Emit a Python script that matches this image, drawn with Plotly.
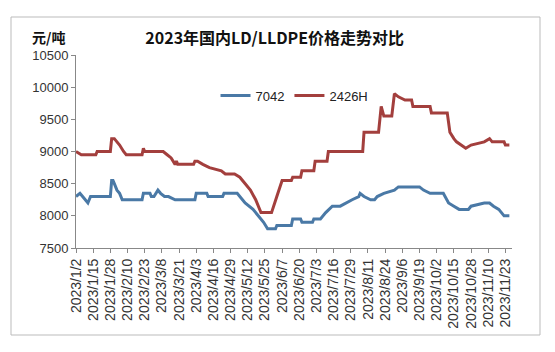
import plotly.graph_objects as go
from datetime import datetime

# ---- data ----
dates_7042 = ["2023-01-02","2023-01-05","2023-01-07","2023-01-11","2023-01-13","2023-01-28","2023-01-29","2023-01-30","2023-01-31","2023-02-01","2023-02-02","2023-02-04","2023-02-06","2023-02-21","2023-02-22","2023-02-27","2023-02-28","2023-03-02","2023-03-05","2023-03-07","2023-03-10","2023-03-13","2023-03-18","2023-04-02","2023-04-03","2023-04-11","2023-04-12","2023-04-23","2023-04-24","2023-05-04","2023-05-06","2023-05-10","2023-05-16","2023-05-20","2023-05-24","2023-05-27","2023-06-02","2023-06-03","2023-06-14","2023-06-15","2023-06-21","2023-06-22","2023-06-30","2023-07-01","2023-07-06","2023-07-10","2023-07-15","2023-07-21","2023-07-25","2023-07-30","2023-08-04","2023-08-05","2023-08-08","2023-08-13","2023-08-16","2023-08-18","2023-08-23","2023-08-31","2023-09-03","2023-09-19","2023-09-22","2023-09-27","2023-10-07","2023-10-10","2023-10-11","2023-10-15","2023-10-19","2023-10-26","2023-10-28","2023-11-07","2023-11-11","2023-11-14","2023-11-18","2023-11-22","2023-11-26"]
values_7042 = [8300,8350,8300,8200,8300,8300,8550,8550,8500,8450,8400,8350,8250,8250,8350,8350,8300,8300,8400,8350,8300,8300,8250,8250,8350,8350,8300,8300,8350,8350,8300,8200,8100,8000,7900,7800,7800,7850,7850,7950,7950,7900,7900,7950,7950,8050,8150,8150,8200,8250,8300,8350,8300,8250,8250,8300,8350,8400,8450,8450,8400,8350,8350,8250,8200,8150,8100,8100,8150,8200,8200,8150,8100,8000,8000]

dates_2426H = ["2023-01-02","2023-01-06","2023-01-17","2023-01-18","2023-01-28","2023-01-29","2023-01-31","2023-02-02","2023-02-04","2023-02-07","2023-02-09","2023-02-21","2023-02-22","2023-02-23","2023-03-09","2023-03-12","2023-03-15","2023-03-18","2023-03-19","2023-03-20","2023-04-01","2023-04-02","2023-04-04","2023-04-08","2023-04-13","2023-04-22","2023-04-25","2023-05-02","2023-05-06","2023-05-14","2023-05-18","2023-05-22","2023-05-30","2023-06-03","2023-06-07","2023-06-14","2023-06-15","2023-06-21","2023-06-22","2023-07-01","2023-07-02","2023-07-11","2023-07-12","2023-08-07","2023-08-08","2023-08-19","2023-08-21","2023-08-23","2023-08-29","2023-08-31","2023-09-03","2023-09-08","2023-09-13","2023-09-14","2023-09-27","2023-09-28","2023-10-10","2023-10-11","2023-10-12","2023-10-15","2023-10-17","2023-10-24","2023-10-28","2023-11-07","2023-11-11","2023-11-13","2023-11-22","2023-11-23","2023-11-26"]
values_2426H = [9000,8950,8950,9000,9000,9200,9200,9150,9100,9000,8950,8950,9050,9000,9000,8950,8900,8800,8850,8800,8800,8850,8850,8800,8750,8700,8650,8650,8600,8400,8250,8050,8050,8300,8550,8550,8600,8600,8700,8700,8850,8850,9000,9000,9300,9300,9700,9550,9550,9900,9850,9800,9800,9700,9700,9600,9600,9450,9300,9200,9150,9050,9100,9150,9200,9150,9150,9100,9100]

x_tick_labels = ["2023/1/2","2023/1/15","2023/1/28","2023/2/10","2023/2/23","2023/3/8","2023/3/21","2023/4/3","2023/4/16","2023/4/29","2023/5/12","2023/5/25","2023/6/7","2023/6/20","2023/7/3","2023/7/16","2023/7/29","2023/8/11","2023/8/24","2023/9/6","2023/9/19","2023/10/2","2023/10/15","2023/10/28","2023/11/10","2023/11/23"]
y_tick_values = [7500, 8000, 8500, 9000, 9500, 10000, 10500]

x_tick_vals = [datetime.strptime(s, "%Y/%m/%d").strftime("%Y-%m-%d") for s in x_tick_labels]

BLUE = "#4a79a6"
RED = "#a33f3d"

fig = go.Figure()
fig.add_trace(go.Scatter(x=dates_7042, y=values_7042, mode="lines", name="7042",
                         line=dict(color=BLUE, width=3)))
fig.add_trace(go.Scatter(x=dates_2426H, y=values_2426H, mode="lines", name="2426H",
                         line=dict(color=RED, width=3)))

fig.update_layout(
    width=555, height=352,
    margin=dict(l=76, r=43, t=55, b=104),
    paper_bgcolor="white", plot_bgcolor="white",
    showlegend=True,
    legend=dict(orientation="h", x=0.32, xanchor="left", y=0.79, yanchor="middle",
                font=dict(family="Liberation Sans", size=13, color="#222"),
                bgcolor="rgba(0,0,0,0)", itemwidth=30, tracegroupgap=0),
    title=dict(text="<b>2023年国内LD/LLDPE价格走势对比</b>", x=0.495, xref="container", xanchor="center",
               y=1 - 38/352, yref="container", yanchor="middle",
               font=dict(family="Noto Sans CJK SC", size=16, color="#111")),
    xaxis=dict(type="date", range=["2023-01-02", "2023-11-28"],
               tickvals=x_tick_vals, ticktext=x_tick_labels, tickangle=-90,
               tickfont=dict(family="Liberation Sans", size=14, color="#333"),
               showgrid=False, zeroline=False, showline=True, linecolor="#888", linewidth=1,
               ticks="outside", ticklen=4, tickcolor="#888"),
    yaxis=dict(range=[7500, 10500], tickvals=y_tick_values,
               ticktext=[str(v) for v in y_tick_values],
               tickfont=dict(family="Liberation Sans", size=13, color="#333"),
               showgrid=False, zeroline=False, showline=True, linecolor="#888", linewidth=1,
               ticks="outside", ticklen=4, tickcolor="#888"),
    hovermode=False,
)

fig.add_annotation(text="<b>元/吨</b>", xref="paper", yref="paper",
                   x=(48 - 76) / 436, y=(248 - 37) / 193, xanchor="center", yanchor="middle",
                   showarrow=False, font=dict(family="Noto Sans CJK SC", size=14, color="#111"))

fig.add_shape(type="rect", xref="paper", yref="paper",
              x0=(11 - 76) / 436, x1=(540 - 76) / 436, y0=(248 - 335) / 193, y1=(248 - 17) / 193,
              line=dict(color="#bbbbbb", width=1), fillcolor="rgba(0,0,0,0)", layer="below")

fig.write_html("out.html", config={"displayModeBar": False})
